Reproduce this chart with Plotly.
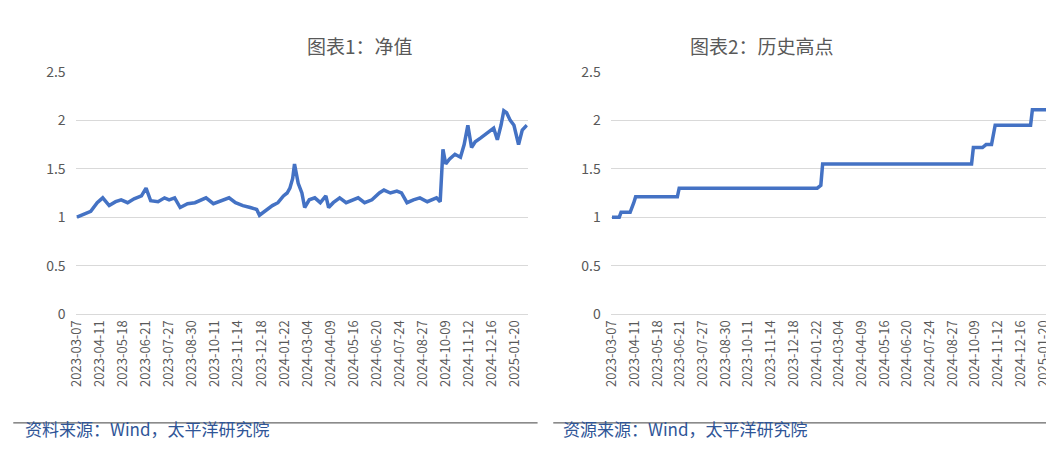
import plotly.graph_objects as go

# tick labels every 25 trading days
tick_labels = ['2023-03-07', '2023-04-11', '2023-05-18', '2023-06-21', '2023-07-27',
               '2023-08-30', '2023-10-11', '2023-11-14', '2023-12-18', '2024-01-22',
               '2024-03-04', '2024-04-09', '2024-05-16', '2024-06-20', '2024-07-24',
               '2024-08-27', '2024-10-09', '2024-11-12', '2024-12-16', '2025-01-20']
tick_step = 25

# chart 1: net value (trading-day index, value)
nav_idx = [0, 8, 15, 22, 28, 35, 42, 48, 55, 62, 70, 75, 80, 88, 95, 100, 106, 112,
           120, 128, 135, 140, 148, 156, 165, 172, 180, 188, 195, 198, 205, 212,
           218, 224, 228, 231, 234, 236, 240, 244, 247, 252, 258, 264, 270, 273,
           278, 285, 292, 300, 305, 312, 320, 328, 333, 340, 347, 352, 358, 365,
           372, 380, 386, 390, 394, 397, 400, 404, 410, 416, 420, 424, 428, 432,
           438, 446, 452, 456, 460, 463, 466, 470, 474, 479, 483, 488]
nav_val = [1.00, 1.03, 1.06, 1.15, 1.20, 1.12, 1.16, 1.18, 1.15, 1.19, 1.22, 1.30,
           1.17, 1.16, 1.20, 1.18, 1.20, 1.10, 1.14, 1.15, 1.18, 1.20, 1.14, 1.17,
           1.20, 1.15, 1.12, 1.10, 1.08, 1.02, 1.07, 1.12, 1.15, 1.22, 1.25, 1.30,
           1.40, 1.55, 1.35, 1.25, 1.10, 1.18, 1.20, 1.15, 1.22, 1.10, 1.15, 1.20,
           1.15, 1.18, 1.20, 1.15, 1.18, 1.25, 1.28, 1.25, 1.27, 1.25, 1.15, 1.18,
           1.20, 1.16, 1.18, 1.20, 1.16, 1.70, 1.55, 1.60, 1.65, 1.62, 1.75, 1.95,
           1.72, 1.78, 1.82, 1.88, 1.92, 1.80, 1.95, 2.10, 2.08, 2.00, 1.95, 1.75,
           1.90, 1.95]

# chart 2: historical high (step points)
high_idx = [0, 8, 10, 20, 24, 26, 72, 74, 226, 230, 232, 396, 398, 408, 412, 418,
            422, 461, 463, 488]
high_val = [1.00, 1.00, 1.05, 1.05, 1.15, 1.21, 1.21, 1.30, 1.30, 1.33, 1.55, 1.55,
            1.72, 1.72, 1.75, 1.75, 1.95, 1.95, 2.11, 2.11]

line_color = '#4472C4'
fig = go.Figure()
fig.add_trace(go.Scatter(x=nav_idx, y=nav_val, mode='lines', line=dict(color=line_color, width=3.5),
                         xaxis='x', yaxis='y', showlegend=False))
fig.add_trace(go.Scatter(x=high_idx, y=high_val, mode='lines', line=dict(color=line_color, width=3.5),
                         xaxis='x2', yaxis='y2', showlegend=False))

tick_vals = [i * tick_step for i in range(len(tick_labels))]
xstyle = dict(tickmode='array', tickvals=tick_vals, ticktext=tick_labels, tickangle=-90,
              range=[-1, 489], showgrid=False, zeroline=False, showline=True, automargin=False,
              linecolor='#d9d9d9', linewidth=1, tickfont=dict(size=13, color='#595959'))
ystyle = dict(range=[0, 2.5], dtick=0.5, showgrid=True, gridcolor='#d9d9d9', zeroline=False,
              showline=False, automargin=False, tickfont=dict(size=14, color='#595959'),
              ticksuffix='   ')

fig.update_layout(
    width=1054, height=450, plot_bgcolor='white', paper_bgcolor='white',
    margin=dict(l=68, r=6, t=64, b=144, autoexpand=False),
    font=dict(family='Noto Sans CJK SC, Liberation Sans', color='#595959'),
    xaxis=dict(domain=[0, 0.461], anchor='y', **xstyle),
    xaxis2=dict(domain=[0.546, 1], anchor='y2', **xstyle),
    yaxis=dict(domain=[0, 1], anchor='x', **ystyle),
    yaxis2=dict(domain=[0, 1], anchor='x2', **ystyle),
    shapes=[
        dict(type='line', xref='paper', yref='paper', x0=-0.064, x1=0.471, y0=-0.45, y1=-0.45,
             line=dict(color='#404040', width=1)),
        dict(type='line', xref='paper', yref='paper', x0=0.487, x1=1.002, y0=-0.45, y1=-0.45,
             line=dict(color='#404040', width=1)),
    ],
    annotations=[
        dict(text='图表1：净值', x=0.234, y=1.174, xref='paper', yref='paper', showarrow=False,
             font=dict(size=19, color='#595959')),
        dict(text='图表2：历史高点', x=0.775, y=1.174, xref='paper', yref='paper', showarrow=False,
             font=dict(size=19, color='#595959')),
        dict(text='资料来源：Wind，太平洋研究院', x=-0.054, y=-0.533, xref='paper', yref='paper',
             xanchor='left', showarrow=False, font=dict(size=17, color='#2F5597')),
        dict(text='资源来源：Wind，太平洋研究院', x=0.495, y=-0.533, xref='paper', yref='paper',
             xanchor='left', showarrow=False, font=dict(size=17, color='#2F5597')),
    ],
)

fig.write_html('out.html')
